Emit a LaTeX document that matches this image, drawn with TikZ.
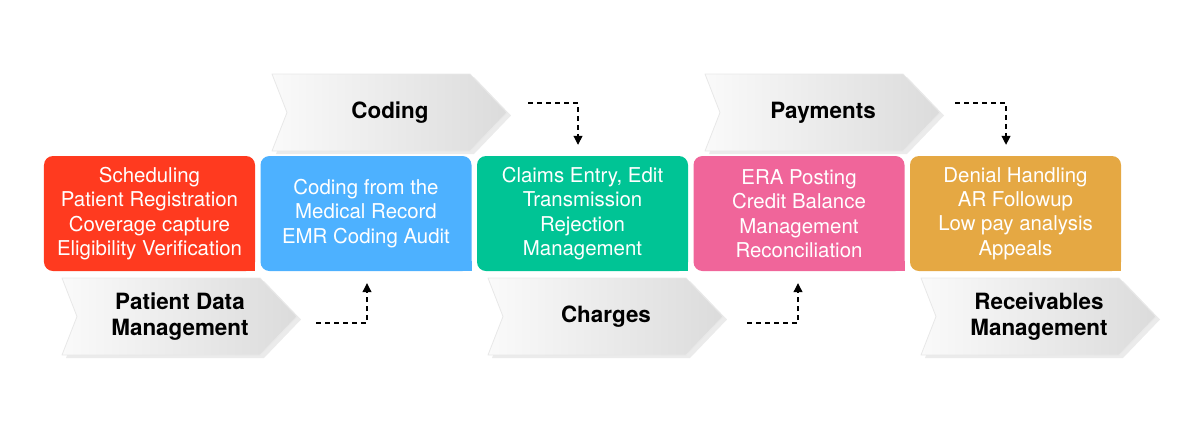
\documentclass[tikz,border=0pt]{standalone}
\usepackage{fontspec}
\setmainfont{TeX Gyre Heros}
\usetikzlibrary{arrows.meta}
\usetikzlibrary{positioning}
\usetikzlibrary{calc}

\definecolor{redc}{RGB}{255,58,31}
\definecolor{bluec}{RGB}{77,177,255}
\definecolor{greenc}{RGB}{0,196,149}
\definecolor{pinkc}{RGB}{240,101,154}
\definecolor{orangec}{RGB}{229,168,67}

% chevron label: name, top left corner, text
\newcommand{\chev}[3]{%
  \fill[black!8] ($(#2)+(4,3)$) -- ++(198,0) -- ++(37,38.5) -- ++(-37,38.5) -- ++(-198,0) -- ++(15,-38.5) -- cycle;
  \fill[white] ($(#2)+(-1,0)$) -- ++(1,0) -- ++(15,38.5) -- ++(-15,38.5) -- ++(-1,0) -- cycle;
  \shade[left color=black!2,right color=black!14,draw=black!9,line width=0.8bp,line join=round]
    (#2) -- ++(198,0) -- ++(37,38.5) -- ++(-37,38.5) -- ++(-198,0) -- ++(15,-38.5) -- cycle;
  \node[chevtext] (#1) at ($(#2)+(118,38.5)$) {#3};
}

\begin{document}
\begin{tikzpicture}[x=1bp,y=-1bp,
  stage/.style={rectangle,rounded corners=9bp,minimum width=211bp,minimum height=115bp,inner sep=0pt,
    text=white,align=center,font=\fontsize{20.5}{24.5}\selectfont},
  chevtext/.style={align=center,text=black,font=\fontsize{22.5}{26}\selectfont\bfseries},
  flow/.style={black,line width=1.1bp,dash pattern=on 5bp off 4bp,-{Triangle[width=9pt,length=9pt]}}]
  \useasboundingbox (0,0) rectangle (1200,428);

  % stages
  \node[stage,fill=redc] (sched) at (149.5,213.5) {Scheduling\\Patient Registration\\Coverage capture\\Eligibility Verification};
  \node[stage,fill=bluec] (emr) at (366,213.5) {Coding from the\\Medical Record\\EMR Coding Audit};
  \node[stage,fill=greenc] (claims) at (582.5,213.5) {Claims Entry, Edit\\Transmission\\Rejection\\Management};
  \node[stage,fill=pinkc] (era) at (799,213.5) {ERA Posting\\Credit Balance\\Management\\Reconciliation};
  \node[stage,fill=orangec] (denial) at (1015.5,213.5) {Denial Handling\\AR Followup\\Low pay analysis\\Appeals};
  \fill[redc] (sched.south east) rectangle ++(-10,-10);
  \fill[bluec] (emr.south east) rectangle ++(-10,-10);
  \fill[greenc] (claims.south east) rectangle ++(-10,-10);
  \fill[pinkc] (era.south east) rectangle ++(-10,-10);
  \fill[orangec] (denial.south east) rectangle ++(-10,-10);

  % phase labels
  \chev{coding}{272,74}{Coding}
  \chev{payments}{705,74}{Payments}
  \chev{patient}{62,278}{Patient Data\\Management}
  \chev{charges}{488,278}{Charges}
  \chev{receiv}{921,278}{Receivables\\Management}

  % dashed links
  \coordinate (l1) at (316,323);
  \coordinate (l2) at (528,103);
  \coordinate (l3) at (747,323);
  \coordinate (l4) at (955,103);
  \draw[flow,shorten >=12bp] (l1) -| ([xshift=1]emr.south);
  \draw[flow,shorten >=11bp] (l2) -| ([xshift=-4.5]claims.north);
  \draw[flow,shorten >=12bp] (l3) -| ([xshift=-1]era.south);
  \draw[flow,shorten >=11bp] (l4) -| ([xshift=-9.5]denial.north);
\end{tikzpicture}
\end{document}
